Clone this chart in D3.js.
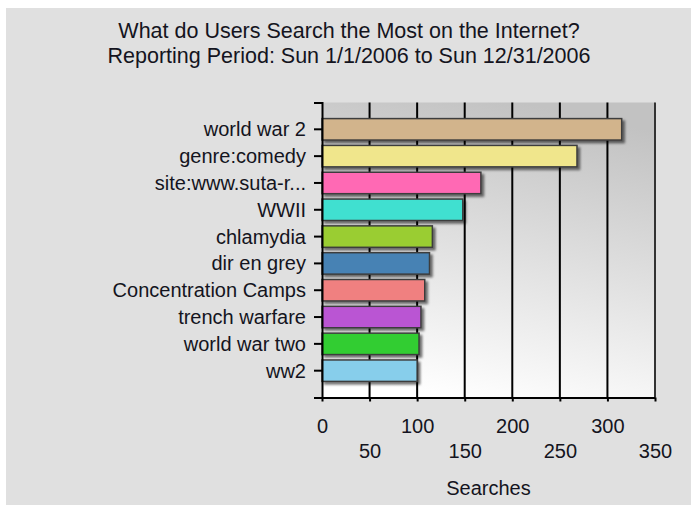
<!DOCTYPE html>
<html>
<head>
<meta charset="utf-8">
<script src="https://cdn.jsdelivr.net/npm/d3@7"></script>
<style>
  body { margin: 0; background: #fff; }
  text { font-family: "Liberation Sans", Arial, sans-serif; fill: #141420; }
</style>
</head>
<body>
<script>
var titleLines = ["What do Users Search the Most on the Internet?",
                  "Reporting Period: Sun 1/1/2006 to Sun 12/31/2006"]
var terms = ["world war 2", "genre:comedy", "site:www.suta-r...", "WWII", "chlamydia",
             "dir en grey", "Concentration Camps", "trench warfare", "world war two", "ww2"]
var searches = [315, 268, 167, 148, 116, 113, 108, 104, 102, 100]
var barColors = ["#D2B48C", "#F0E68C", "#FF69B4", "#40E0D0", "#9ACD32",
                 "#4682B4", "#F08080", "#BA55D3", "#32CD32", "#87CEEB"]
var xTicks = [0, 50, 100, 150, 200, 250, 300, 350]
var xTitle = "Searches"

var w = 691;
var h = 507;
var plotLeft = 322, plotRight = 655, plotTop = 102.5, plotBottom = 397.5;

var data = terms.map(function(t, i) {
    return {term: t, value: searches[i], color: barColors[i]}
})

var svg = d3.select("body")
    .append("svg")
    .attr("width", w)
    .attr("height", h);

var defs = svg.append("defs");

// plot area gradient, grey top right going to white bottom left
var grad = defs.append("linearGradient")
    .attr("id", "plotBg")
    .attr("x1", 0.6).attr("y1", 0)
    .attr("x2", 0.35).attr("y2", 1);
grad.append("stop").attr("offset", "0%").attr("stop-color", "#c2c2c2");
grad.append("stop").attr("offset", "100%").attr("stop-color", "#ffffff");

var shadow = defs.append("filter")
    .attr("id", "barShadow")
    .attr("x", "-10%").attr("y", "-20%")
    .attr("width", "130%").attr("height", "160%");
shadow.append("feDropShadow")
    .attr("dx", 2.5).attr("dy", 2.5)
    .attr("stdDeviation", 1)
    .attr("flood-color", "#000")
    .attr("flood-opacity", 0.55);

// outer grey panel
svg.append("rect")
    .attr("x", 6).attr("y", 8)
    .attr("width", w - 6).attr("height", h - 10)
    .attr("fill", "#e0e0e0");

var xScale = d3.scaleLinear()
    .domain([0, 350])
    .range([plotLeft, plotRight]);

var yScale = d3.scaleBand()
    .domain(terms)
    .range([plotTop, plotBottom])
    .paddingInner(0.2)
    .paddingOuter(0.6);

svg.append("rect")
    .attr("x", plotLeft).attr("y", plotTop)
    .attr("width", plotRight - plotLeft).attr("height", plotBottom - plotTop)
    .attr("fill", "url(#plotBg)");

// vertical grid lines
svg.append("g")
    .selectAll("line")
    .data(xTicks.filter(function(d) { return d > 0 }))
    .enter()
    .append("line")
    .attr("x1", function(d) { return xScale(d) })
    .attr("x2", function(d) { return xScale(d) })
    .attr("y1", plotTop)
    .attr("y2", plotBottom)
    .attr("stroke", function(d) { return d == 350 ? "#333" : "#000" })
    .attr("stroke-width", 2);

// bars
svg.append("g")
    .selectAll("rect")
    .data(data)
    .enter()
    .append("rect")
    .attr("x", xScale(0))
    .attr("y", function(d) { return yScale(d.term) })
    .attr("width", function(d) { return xScale(d.value) - xScale(0) })
    .attr("height", yScale.bandwidth())
    .attr("fill", function(d) { return d.color })
    .attr("stroke", "#3c3c3c")
    .attr("stroke-width", 1.5)
    .attr("filter", "url(#barShadow)");

var yAxis = d3.axisLeft(yScale)
    .tickSize(8)
    .tickSizeOuter(8)
    .tickPadding(8);

var yG = svg.append("g")
    .attr("transform", "translate(" + plotLeft + ",0)")
    .call(yAxis);
yG.selectAll("path, line").attr("stroke", "#000").attr("stroke-width", 2);
yG.selectAll("text")
    .style("font-size", "20px")
    .attr("dy", "0.35em");

var xAxis = d3.axisBottom(xScale)
    .tickValues(xTicks)
    .tickSize(4)
    .tickSizeOuter(0);

var xG = svg.append("g")
    .attr("transform", "translate(0," + plotBottom + ")")
    .call(xAxis);
xG.selectAll("path, line").attr("stroke", "#000").attr("stroke-width", 2);
// labels alternate between two rows
xG.selectAll("text")
    .style("font-size", "20px")
    .attr("dy", 0)
    .attr("y", function(d, i) { return i % 2 == 0 ? 35.5 : 60.5 });

svg.append("text")
    .attr("x", (plotLeft + plotRight) / 2)
    .attr("y", 495)
    .attr("text-anchor", "middle")
    .style("font-size", "20px")
    .text(xTitle);

svg.append("g")
    .selectAll("text")
    .data(titleLines)
    .enter()
    .append("text")
    .attr("x", 349)
    .attr("y", function(d, i) { return 38 + i * 25 })
    .attr("text-anchor", "middle")
    .style("font-size", "21.5px")
    .text(function(d) { return d });
</script>
</body>
</html>
